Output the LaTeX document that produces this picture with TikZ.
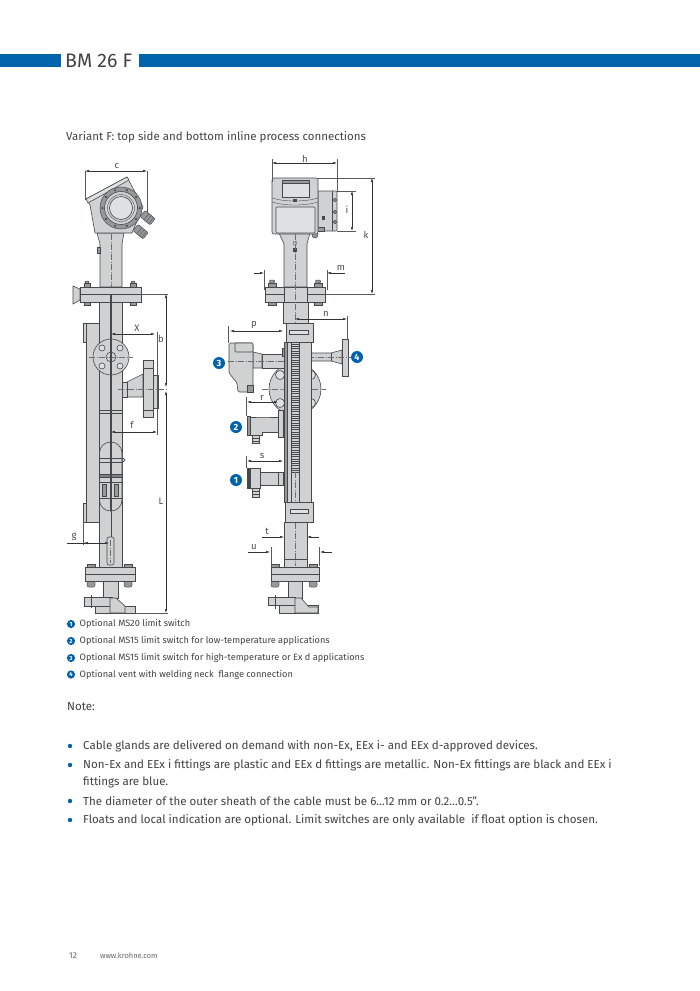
\documentclass[tikz,border=0pt]{standalone}
\usepackage{fontspec}
\setmainfont{Fira Sans}
\usetikzlibrary{arrows.meta}
\definecolor{highlight}{RGB}{0,99,172}
\definecolor{bodygrey}{RGB}{207,209,211}
\definecolor{lightgrey}{RGB}{222,224,226}
\definecolor{darkgrey}{RGB}{150,152,154}
\definecolor{inkgrey}{RGB}{72,72,72}
\definecolor{textgrey}{RGB}{66,66,66}
\tikzset{>={Latex[length=4pt,width=2.4pt]}}
\begin{document}
\begin{tikzpicture}[x=1pt,y=-1pt]
    \tikzset{part/.style={draw=inkgrey, line width=0.6pt, fill=bodygrey},
        dark/.style={draw=inkgrey, line width=0.5pt, fill=darkgrey},
        fine/.style={draw=inkgrey, line width=0.35pt},
        dim/.style={draw=black!80, line width=0.45pt},
        ext/.style={draw=black!65, line width=0.4pt},
        centre/.style={draw=inkgrey!80, line width=0.3pt, dash pattern=on 6pt off 1.5pt on 1pt off 1.5pt},
        dimlabel/.style={font=\fontsize{9.5}{9.5}\selectfont, text=black!70, inner sep=0pt},
        badge/.style={circle, fill=highlight, text=white, inner sep=0pt, minimum size=12pt, font=\bfseries\fontsize{9}{9}\selectfont},
        keybadge/.style={circle, fill=highlight, text=white, inner sep=0pt, minimum size=8.2pt, font=\bfseries\fontsize{6}{6}\selectfont},
        keytext/.style={anchor=west, inner sep=0pt, text=textgrey, font=\fontsize{9.2}{9.2}\selectfont},
        notetext/.style={anchor=west, inner sep=0pt, text=textgrey, font=\fontsize{11.55}{11.55}\selectfont},
        bullet/.style={circle, fill=highlight, inner sep=0pt, minimum size=4.4pt}}
    \useasboundingbox (0,0) rectangle (700,991);
    \fill[white] (0,0) rectangle (700,991);
    % header
    \fill[highlight] (0,53.5) rectangle (60.5,67);
    \fill[highlight] (138.5,53.5) rectangle (700,67);
    \node[anchor=west, inner sep=0pt, text=textgrey, font=\fontsize{19.5}{19.5}\selectfont] (title) at (65,60.5) {BM 26 F};
    \node[notetext, font=\fontsize{11.5}{11.5}\selectfont] (variant) at (66,137) {Variant F: top side and bottom inline process connections};
    % left view: chamber
    \draw[part] (83,323) rectangle (99,342);
    \draw[part] (83,503) rectangle (99,522);
    \draw[part] (86,323) rectangle (99,522);
    \draw[part] (99,302) rectangle (122,567);
    \draw[fine] (99,410) -- (123,410);
    \draw[fine] (99,413) -- (123,413);
    % left view: top flange
    \draw[part] (97,233) -- (124,233) -- (122,244) -- (122,287) -- (100,287) -- (100,244) -- cycle;
    \draw[centre] (111,234) -- (111,290);
    \draw[dark] (97,247) rectangle (100,253);
    \draw[part] (73,286) -- (80,289) -- (80,300) -- (73,304) -- cycle;
    \foreach \bx in {87,133} {
        \draw[dark] (\bx-3,283) rectangle (\bx+3,287);
        \draw[dark, rounded corners=1pt] (\bx-2,281) rectangle (\bx+2,283);
        \draw[dark] (\bx-3,302) rectangle (\bx+3,305);
    }
    \draw[part] (80,287) rectangle (141,302);
    \draw[inkgrey, line width=1pt] (80,294) -- (141,294);
    % left view: housing
    \foreach \gx/\gy in {148/218,141/232} {
        \draw[dark, shift={(\gx,\gy)}, rotate=-40, rounded corners=1pt] (-7,-4) rectangle (6,4);
        \draw[fine, shift={(\gx,\gy)}, rotate=-40] (-2,-4) -- (-2,4);
        \draw[fine, shift={(\gx,\gy)}, rotate=-40] (1,-4) -- (1,4);
        \draw[fine, shift={(\gx,\gy)}, rotate=-40] (4,-4) -- (4,4);
    }
    \draw[part] (90,205) -- (95,233) -- (132,233) -- (143,207) -- (127,177) -- (86,199) -- cycle;
    \draw[part, fill=lightgrey] (86,199) -- (127,177) -- (129,180) -- (88,203) -- cycle;
    \draw[dark] (121,208) circle (21);
    \draw[part] (121,208) circle (16.5);
    \draw[part, fill=lightgrey] (121,208) circle (11.5);
    \draw[fine] (121,208) circle (13.5);
    \foreach \ang in {0,36,...,324} {
        \fill[inkgrey] (121,208) ++(\ang:18.7) circle (1.2);
    }
    % left view: round flange and nozzle
    \draw[part] (127,382) -- (143,374) -- (143,397) -- (127,397) -- cycle;
    \draw[part] (122,382) rectangle (127,397);
    \draw[part] (153,375) rectangle (158,408);
    \draw[part] (143,360) rectangle (153,417);
    \draw[part] (143,368) -- (153,368);
    \draw[part] (143,410) -- (153,410);
    \draw[centre] (118,389) -- (168,389);
    \draw[part] (111,357) circle (18);
    \foreach \hx/\hy in {102/348,120/348,102/366,120/366} {
        \draw[part, fill=lightgrey] (\hx,\hy) circle (3);
    }
    \draw[part] (111,357) circle (5);
    \draw[centre] (89,357) -- (133,357);
    % left view: float and rod
    \draw[part, rounded corners=11pt] (99.5,442) rectangle (122,511);
    \draw[fine] (99.5,458) -- (123,458);
    \draw[fine] (99.5,462) -- (123,462);
    \draw[part, fill=bodygrey] (123.5,460) circle (1.7);
    \draw[dark, fill=inkgrey!70] (99.5,474) rectangle (122,477);
    \draw[fine] (99.5,482) -- (122,482);
    \draw[dark] (102,484) rectangle (106,496);
    \draw[dark] (114,484) rectangle (118,496);
    \draw[fine] (99.5,498) -- (122,498);
    \draw[inkgrey, line width=1.1pt] (111,294) -- (111,511);
    \draw[inkgrey, line width=0.8pt] (111,511) -- (111,537);
    \draw[inkgrey, line width=1.5pt] (111,305) -- (111,320);
    \draw[part, rounded corners=2pt] (107,537) rectangle (114,565);
    \draw[centre] (110.5,540) -- (110.5,563);
    % left view: bottom flange
    \foreach \bx in {91,128} {
        \draw[dark] (\bx-4,564) rectangle (\bx+4,567);
        \draw[dark, rounded corners=2pt] (\bx-4,581) rectangle (\bx+4,587);
    }
    \draw[part] (103,581) rectangle (118,598);
    \draw[part] (85,567) rectangle (135,581);
    \draw[inkgrey, line width=1pt] (85,574) -- (135,574);
    \draw[part] (84,597) rectangle (112,606);
    \draw[part] (95,606) rectangle (135,613);
    \draw[part] (110,598) -- (116,598) -- (125,606) -- (125,613) -- (110,613) -- cycle;
    \draw[fine] (91,595) -- (91,608);
    % left view: dimensions
    \draw[ext] (85,171) -- (85,200);
    \draw[ext] (147,171) -- (147,213);
    \draw[dim, <->] (85,171) -- (147,171);
    \node[dimlabel] (lblc) at (117,166) {c};
    \draw[dim, <->] (111,334) -- (155,334);
    \node[dimlabel] (lblx) at (137,328) {X};
    \draw[ext] (157,332) -- (157,435);
    \node[dimlabel] (lblb) at (161,339) {b};
    \draw[ext] (141,294) -- (168,294);
    \draw[ext] (135,613) -- (168,613);
    \draw[dim, <->] (166,294) -- (166,387);
    \draw[dim, <->] (166,391) -- (166,613);
    \node[dimlabel] (lbll) at (161,501) {L};
    \draw[dim, <->] (111,432) -- (157,432);
    \node[dimlabel] (lblf) at (132,425) {f};
    \draw[ext] (83,522) -- (83,545);
    \draw[dim, ->] (67,543) -- (109,543);
    \draw[dim, ->] (90,543) -- (84,543);
    \node[dimlabel] (lblg) at (74,537) {g};
    % right view: round flange behind the rail
    \draw[part] (295,389) circle (26);
    \foreach \hx/\hy in {280/375,311/375,280/403,311/403} {
        \draw[part, fill=lightgrey] (\hx,\hy) circle (4.5);
    }
    \draw[centre] (262,389) -- (326,389);
    % right view: neck and flange
    \draw[part] (279,233) -- (310,233) -- (307,244) -- (307,287) -- (284,287) -- (284,244) -- cycle;
    \foreach \bx in {272,318} {
        \draw[dark] (\bx-4,283) rectangle (\bx+4,287);
        \draw[dark, rounded corners=1pt] (\bx-2.5,280) rectangle (\bx+2.5,283);
        \draw[dark] (\bx-4,302) rectangle (\bx+4,305);
    }
    \draw[part] (283,302) rectangle (308,323);
    \draw[part] (265,287) rectangle (325,302);
    \draw[inkgrey, line width=1pt] (265,294) -- (325,294);
    \draw[part] (284,287) rectangle (307,302);
    \draw[fine] (295,243) circle (2);
    \fill[inkgrey] (293,248) rectangle (297,252);
    \draw[centre] (295,234) -- (295,323);
    % right view: housing
    \draw[part, rounded corners=1pt] (318,191) rectangle (337,231);
    \draw[fine] (332,191) -- (332,231);
    \foreach \by in {200,212,222} {
        \draw[part, fill=darkgrey] (335,\by) circle (1.8);
    }
    \fill[inkgrey] (322,216) rectangle (325,220);
    \draw[dark] (317,227) rectangle (324,231);
    \draw[dark] (315,235) circle (3);
    \draw[part, rounded corners=2pt] (272,178) rectangle (318,234);
    \draw[part, fill=lightgrey] (282,180) rectangle (309,197);
    \draw[dark] (282,180) rectangle (309,183);
    \draw[fine] (272,198) .. controls (285,202) and (305,202) .. (318,198);
    \draw[fine] (272,202) .. controls (285,206) and (305,206) .. (318,202);
    \fill[inkgrey] (293,199) rectangle (297,201.5);
    \draw[part, fill=lightgrey, rounded corners=1pt] (276,207) rectangle (315,233);
    % right view: vent
    \draw[part] (310,353) -- (331,353) -- (342,350) -- (342,364) -- (331,361) -- (310,361) -- cycle;
    \draw[fine] (331,353) -- (331,361);
    \draw[part] (342,339) rectangle (348,376);
    \draw[centre] (308,357.5) -- (352,357.5);
    % right view: high temperature switch
    \draw[part] (262,354) rectangle (285,368);
    \draw[part] (253,352) -- (262,354) -- (262,368) -- (253,368) -- cycle;
    \draw[part, rounded corners=1.5pt] (229,343) -- (253,343) -- (253,392) -- (238,392) -- (237,383) -- (229,373) -- cycle;
    \draw[part, rounded corners=1pt] (235,343) rectangle (253,352);
    \draw[dark] (247,385) rectangle (253,392);
    \draw[centre] (228,361) -- (285,361);
    % right view: switches on the rail
    \draw[part] (262,417) -- (278,417) -- (278,432) -- (262,432) -- (262,435) -- (250,435) -- (250,417) -- cycle;
    \draw[dark] (247,416) rectangle (250,435);
    \draw[part] (278,410) rectangle (283,437);
    \draw[part] (252,435) rectangle (259,443);
    \draw[fine] (252,438) -- (259,438);
    \draw[fine] (252,441) -- (259,441);
    \draw[part] (260,472) rectangle (283,485);
    \draw[fine] (278,472) -- (278,485);
    \draw[part] (250,468) rectangle (260,488);
    \draw[inkgrey, fill=inkgrey] (247,468) rectangle (250,488);
    \draw[part] (252,488) rectangle (259,497);
    \draw[fine] (252,491) -- (259,491);
    \draw[fine] (252,494) -- (259,494);
    % right view: rail and scale
    \draw[part] (284,342) rectangle (311,502);
    \draw[dark] (284,342) rectangle (287,502);
    \draw[part, line width=0.8pt] (291,342) rectangle (299,472);
    \foreach \ry in {344,348.5,...,470} {
        \draw[fine] (291,\ry) -- (299,\ry);
        \draw[fine] (291,\ry+2.2) -- (299,\ry+2.2);
    }
    \draw[fine] (291,472) -- (291,502);
    \draw[fine] (299,472) -- (299,502);
    \draw[centre] (295,472) -- (295,502);
    \draw[dark] (282,348) rectangle (284,356);
    \draw[part] (286,323) rectangle (313,342);
    \draw[part, fill=lightgrey] (289,330) rectangle (308,334);
    \draw[part] (284,522) rectangle (307,567);
    \draw[fine] (284,559) -- (307,559);
    \draw[part] (285,502) rectangle (313,522);
    \draw[part, fill=lightgrey] (290,509) rectangle (308,513);
    \draw[centre] (295,523) -- (295,566);
    % right view: bottom flange
    \foreach \bx in {275,313} {
        \draw[dark] (\bx-4,564) rectangle (\bx+4,567);
        \draw[dark, rounded corners=2pt] (\bx-4,581) rectangle (\bx+4,587);
    }
    \draw[part] (288,581) rectangle (302,598);
    \draw[part] (271,567) rectangle (319,581);
    \draw[inkgrey, line width=1pt] (271,574) -- (319,574);
    \draw[part] (268,597) rectangle (295,605);
    \draw[part] (279,605) rectangle (318,613);
    \draw[part] (295,598) -- (301,598) -- (309,607) -- (318,607) -- (318,613) -- (295,613) -- cycle;
    \draw[fine] (275,595) -- (275,609);
    % right view: dimensions
    \draw[ext] (272,159) -- (272,182);
    \draw[ext] (337,159) -- (337,191);
    \draw[dim, <->] (272,163) -- (337,163);
    \node[dimlabel] (lblh) at (305,159) {h};
    \draw[ext] (337,191) -- (356,191);
    \draw[ext] (337,231) -- (356,231);
    \draw[dim, <->] (352,191) -- (352,231);
    \node[dimlabel] (lbli) at (347,210) {i};
    \draw[ext] (318,178) -- (375,178);
    \draw[ext] (325,294) -- (375,294);
    \draw[dim, <->] (372,178) -- (372,294);
    \node[dimlabel] (lblk) at (366,235) {k};
    \draw[ext] (264,270) -- (264,290);
    \draw[ext] (327,270) -- (327,290);
    \draw[dim, ->] (254,273) -- (264,273);
    \draw[dim, ->] (345,273) -- (327,273);
    \node[dimlabel] (lblm) at (341,268) {m};
    \draw[ext] (347,316) -- (347,340);
    \draw[dim, <->] (295,319) -- (347,319);
    \node[dimlabel] (lbln) at (326,314) {n};
    \draw[ext] (228,326) -- (228,343);
    \draw[dim, <->] (230,331) -- (283,331);
    \node[dimlabel] (lblp) at (254,325) {p};
    \draw[ext] (246,397) -- (246,416);
    \draw[dim, <->] (247,402) -- (278,402);
    \node[dimlabel] (lblr) at (262,398) {r};
    \draw[ext] (246,456) -- (246,468);
    \draw[dim, <->] (247,461) -- (283,461);
    \node[dimlabel] (lbls) at (262,456) {s};
    \draw[dim, ->] (262,537) -- (284,537);
    \draw[dim, ->] (319,537) -- (307,537);
    \node[dimlabel] (lblt) at (267,531) {t};
    \draw[ext] (271,547) -- (271,566);
    \draw[ext] (319,547) -- (319,566);
    \draw[dim, ->] (248,552) -- (270,552);
    \draw[dim, ->] (332,552) -- (320,552);
    \node[dimlabel] (lblu) at (254,547) {u};
    % numbered callouts
    \node[badge] (one) at (236,480) {1};
    \node[badge] (two) at (236,427) {2};
    \node[badge] (three) at (219,363) {3};
    \node[badge] (four) at (357,357) {4};
    % key
    \foreach \kn/\ky/\kt in {1/624/{Optional MS20 limit switch},
        2/641/{Optional MS15 limit switch for low-temperature applications},
        3/658/{Optional MS15 limit switch for high-temperature or Ex d applications},
        4/674.5/{Optional vent with welding neck\ \ flange connection}} {
        \node[keybadge] (key\kn) at (71,\ky) {\kn};
        \node[keytext] (keytext\kn) at (79.5,\ky) {\kt};
    }
    \node[notetext] (note) at (67,707) {Note:};
    \foreach \nn/\ny in {a/746,b/765,c/801,d/820} {
        \node[bullet] (dot\nn) at (70,\ny) {};
    }
    \node[notetext] (linea) at (83,746) {Cable glands are delivered on demand with non-Ex, EEx i- and EEx d-approved devices.};
    \node[notetext] (lineb) at (83,765) {Non-Ex and EEx i fittings are plastic and EEx d fittings are metallic. Non-Ex fittings are black and EEx i};
    \node[notetext] (linec) at (83,782) {fittings are blue.};
    \node[notetext] (lined) at (83,801) {The diameter of the outer sheath of the cable must be 6\ldots12 mm or 0.2\ldots0.5".};
    \node[notetext] (linee) at (83,820) {Floats and local indication are optional. Limit switches are only available\ \ if float option is chosen.};
    % footer
    \node[anchor=west, inner sep=0pt, text=black!60, font=\fontsize{8.5}{8.5}\selectfont] (page) at (69,956) {12};
    \node[anchor=west, inner sep=0pt, text=black!60, font=\fontsize{7.5}{7.5}\selectfont] (web) at (100,956) {www.krohne.com};
\end{tikzpicture}
\end{document}
